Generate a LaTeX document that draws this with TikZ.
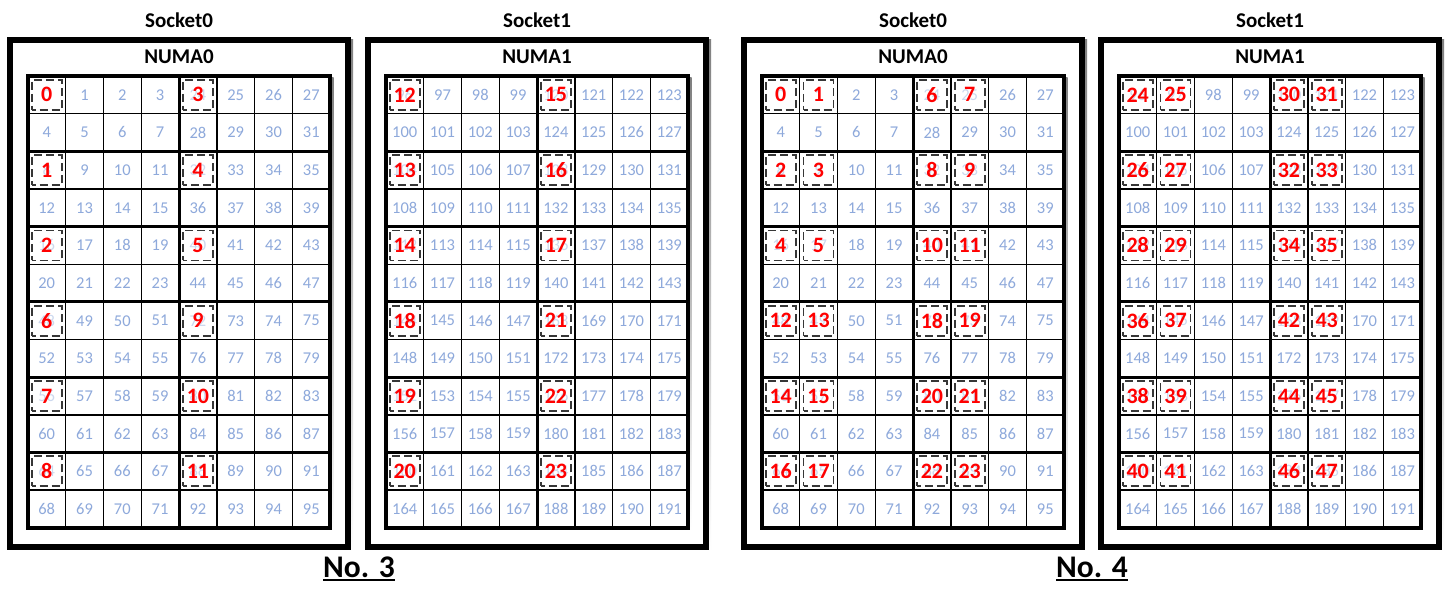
\documentclass[tikz,border=0pt]{standalone}
\usepackage{fontspec}
\setmainfont{Carlito}
\definecolor{numblue}{RGB}{142,169,219}
\definecolor{dashgray}{RGB}{55,55,55}
\definecolor{shade}{RGB}{205,213,228}
\begin{document}
\begin{tikzpicture}[x=1pt,y=-1pt,
  outerbox/.style={draw=black,line width=6pt,fill=white,minimum width=338pt,minimum height=507pt,inner sep=0pt,outer sep=0pt,anchor=north west},
  thinline/.style={line width=1.4pt,line cap=rect},
  thickline/.style={line width=3pt,line cap=rect},
  borderline/.style={line width=3.5pt},
  bluenum/.style={text=numblue,font=\fontsize{16.5}{16.5}\selectfont,inner sep=0pt},
  rednum/.style={draw=dashgray,line width=1.8pt,dash pattern=on 8pt off 4pt,dash phase=4pt,fill=white,fill opacity=0.55,text opacity=1,minimum width=30pt,minimum height=30pt,inner sep=0pt,outer sep=0pt,text=red,font=\bfseries\fontsize{22}{22}\selectfont},
  title/.style={font=\bfseries\fontsize{21}{21}\selectfont,inner sep=0pt},
  bigtitle/.style={font=\bfseries\fontsize{31.5}{31.5}\selectfont,inner sep=0pt,anchor=base},
]
\useasboundingbox[fill=white] (0,0) rectangle (1450,601);
\def\cw{37.8}
\def\ch{37.65}
\foreach \p/\L/\sk/\base/\sch/\off in {1/7/0/0/3/0, 2/365/1/96/3/12, 3/741/0/0/4/0, 4/1098/1/96/4/24} {
  \pgfmathsetmacro\G{\L+20.8}
  \pgfmathsetmacro\Gr{\G+8*\cw}
  \pgfmathsetmacro\Gb{76+12*\ch}
  % shadow of outer box
  \fill[shade] (\L+2,40) rectangle (\L+346,551);
  \node[outerbox] (panel\p) at (\L+3,40) {};
  \node[title] (sock\p) at (\L+172,20) {Socket\sk};
  \node[title] (numa\p) at (\L+172,57) {NUMA\sk};
  % grid shadow
  \fill[shade] (\G+2,78) rectangle (\Gr+3.5,\Gb+3.5);
  \fill[white] (\G,76) rectangle (\Gr,\Gb);
  % blue numbers
  \foreach \r in {0,...,11} {
    \foreach \c in {0,...,7} {
      \pgfmathtruncatemacro\half{\r>5 ? 1 : 0}
      \pgfmathtruncatemacro\isR{\c>3 ? 1 : 0}
      \pgfmathtruncatemacro\rr{\r-6*\half}
      \pgfmathtruncatemacro\cc{\c-4*\isR}
      \pgfmathtruncatemacro\v{\base+48*\half+24*\isR+4*\rr+\cc}
      \node[bluenum] (b\p-\r-\c) at ({\G+(\c+0.5)*\cw},{76+(\r+0.5)*\ch}) {\v};
    }
  }
  % grid lines
  \foreach \c in {1,2,3,5,6,7} {
    \draw[thinline] ({\G+\c*\cw},76) -- ({\G+\c*\cw},\Gb);
  }
  \foreach \r in {1,3,5,7,9,11} {
    \draw[thinline] (\G,{76+\r*\ch}) -- (\Gr,{76+\r*\ch});
  }
  \foreach \r in {2,4,6,8,10} {
    \draw[thickline] (\G,{76+\r*\ch}) -- (\Gr,{76+\r*\ch});
  }
  \draw[thickline] ({\G+4*\cw},76) -- ({\G+4*\cw},\Gb);
  \draw[borderline] (\G,76) rectangle (\Gr,\Gb);
  % red numbers
  \foreach \k in {0,...,5} {
    \pgfmathtruncatemacro\up{\k>2 ? 1 : 0}
    \ifnum\sch=3
      \pgfmathtruncatemacro\va{\k+3*\up+\off}
      \pgfmathtruncatemacro\vb{\va+3}
      \node[rednum] (r\p-\k-0) at ({\G+0.5*\cw},{76+(2*\k+0.5)*\ch}) {\va};
      \node[rednum] (r\p-\k-4) at ({\G+4.5*\cw},{76+(2*\k+0.5)*\ch}) {\vb};
    \else
      \pgfmathtruncatemacro\va{2*\k+6*\up+\off}
      \pgfmathtruncatemacro\vb{\va+1}
      \pgfmathtruncatemacro\vc{\va+6}
      \pgfmathtruncatemacro\vd{\va+7}
      \node[rednum] (r\p-\k-0) at ({\G+0.5*\cw},{76+(2*\k+0.5)*\ch}) {\va};
      \node[rednum] (r\p-\k-1) at ({\G+1.5*\cw},{76+(2*\k+0.5)*\ch}) {\vb};
      \node[rednum] (r\p-\k-4) at ({\G+4.5*\cw},{76+(2*\k+0.5)*\ch}) {\vc};
      \node[rednum] (r\p-\k-5) at ({\G+5.5*\cw},{76+(2*\k+0.5)*\ch}) {\vd};
    \fi
  }
}
\node[bigtitle] (no3) at (359,577) {No. 3};
\draw[line width=2.5pt] ([yshift=-3pt]no3.base west) -- ([yshift=-3pt]no3.base east);
\node[bigtitle] (no4) at (1092,577) {No. 4};
\draw[line width=2.5pt] ([yshift=-3pt]no4.base west) -- ([yshift=-3pt]no4.base east);
\end{tikzpicture}
\end{document}
